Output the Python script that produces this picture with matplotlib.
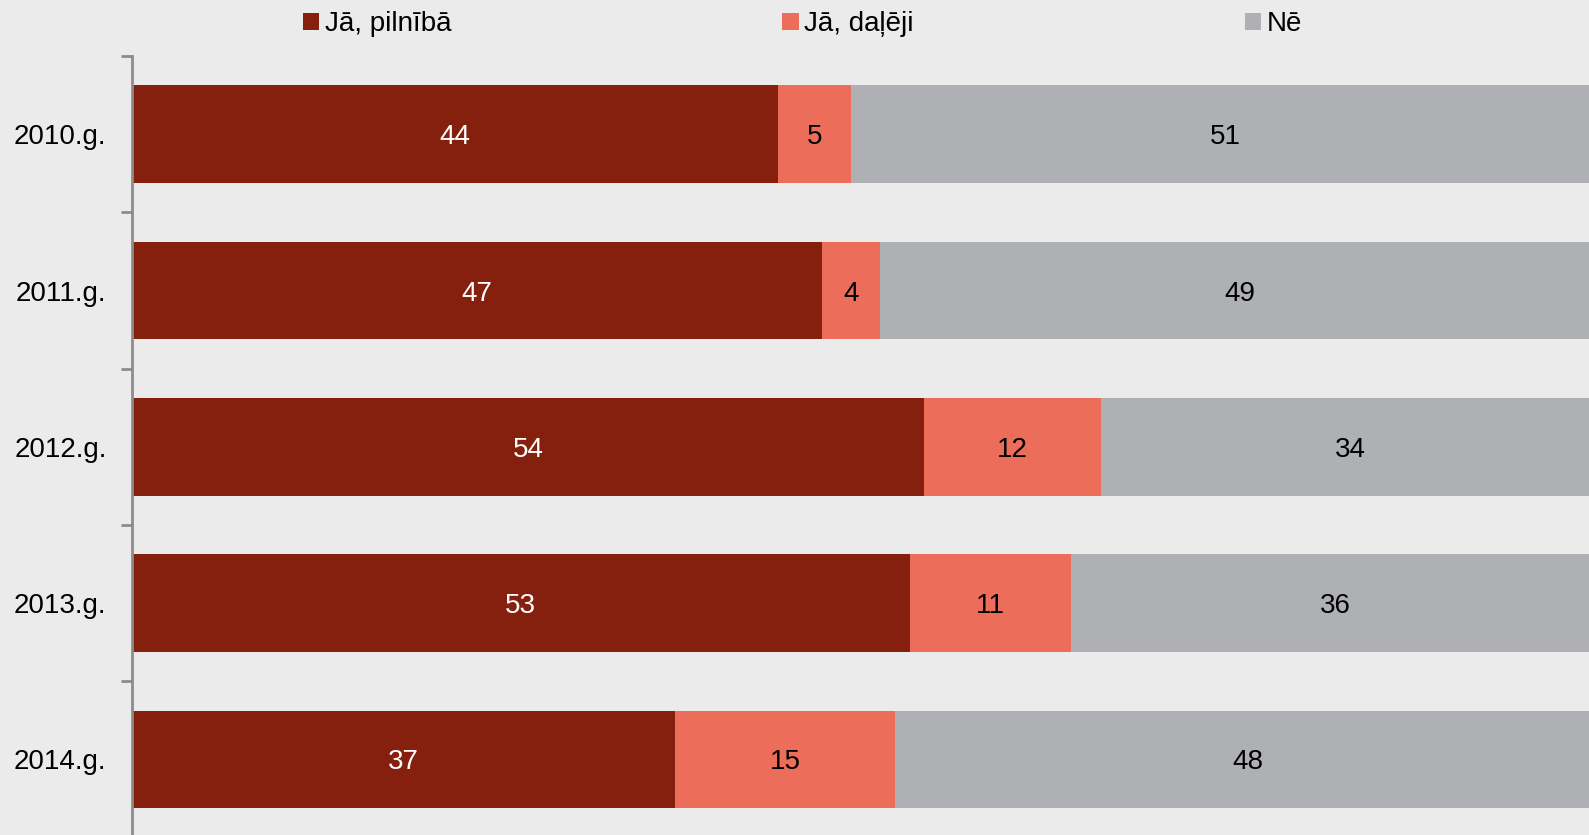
import numpy as np
import matplotlib.pyplot as plt
from matplotlib.patches import Patch

plt.rcParams['font.family'] = ['Liberation Sans', 'DejaVu Sans']

years = ['2010.g.', '2011.g.', '2012.g.', '2013.g.', '2014.g.']
series_names = ['Jā, pilnībā', 'Jā, daļēji', 'Nē']
full_yes = [44, 47, 54, 53, 37]
part_yes = [5, 4, 12, 11, 15]
no = [51, 49, 34, 36, 48]

colors = ['#85200f', '#ec6e5a', '#aeb0b4']
text_colors = ['white', 'black', 'black']
bg = '#ebebeb'

fig = plt.figure(figsize=(15.89, 8.35), dpi=100, facecolor=bg)
W, H = 1589, 835
ax = fig.add_axes([131.5 / W, -2.6 / H, (W - 131.5) / W, 781.5 / H])
ax.set_facecolor(bg)

y = np.arange(len(years))
left = np.zeros(len(years))
for vals, c, tc, name in zip([full_yes, part_yes, no], colors, text_colors, series_names):
    vals = np.array(vals, dtype=float)
    ax.barh(y, vals, left=left, height=0.624, color=c, label=name)
    for yi, l, v in zip(y, left, vals):
        ax.text(l + v / 2, yi, str(int(v)), ha='center', va='center_baseline',
                fontsize=20, color=tc)
    left += vals

# bars run slightly past the right edge
ax.set_xlim(0, 99.25)
ax.set_ylim(len(years) - 0.5, -0.5)

for s in ['top', 'right', 'bottom']:
    ax.spines[s].set_visible(False)
ax.spines['left'].set_color('#8c8c8c')
ax.spines['left'].set_linewidth(2)

ax.set_xticks([])
ax.set_yticks(y)
ax.set_yticklabels(years, fontsize=20)
ax.tick_params(axis='y', which='major', length=0, pad=18)
ax.set_yticks(np.arange(-0.5, len(years), 1), minor=True)
ax.tick_params(axis='y', which='minor', length=8, width=2, color='#8c8c8c')

handles = [Patch(facecolor=c, edgecolor='none') for c in colors]
fig.legend(handles, series_names, loc='center', bbox_to_anchor=(0.505, 1 - 24 / H),
           ncol=3, frameon=False, fontsize=20, handlelength=0.58, handleheight=0.58,
           handletextpad=0.2, columnspacing=11.93, borderaxespad=0)

fig.savefig('out.png', dpi=100, facecolor=bg)
